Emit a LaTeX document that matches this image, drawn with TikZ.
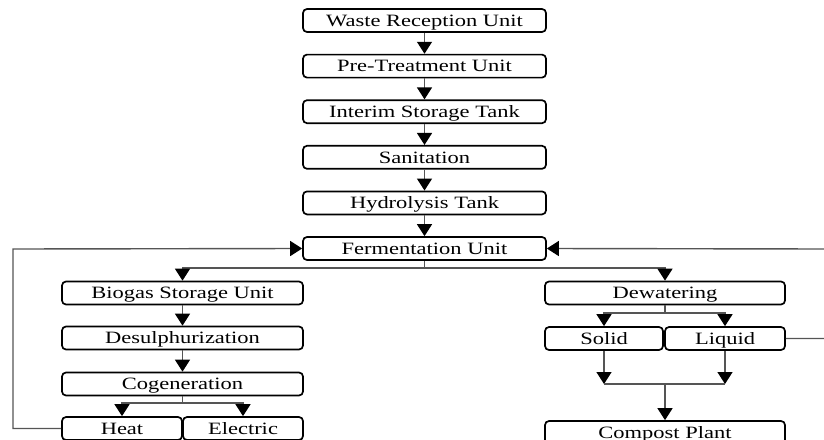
\documentclass[tikz,border=0pt]{standalone}
\usepackage{fontspec}
\setmainfont[FakeStretch=1.3]{Liberation Serif}
\usepackage{tikz}
\usetikzlibrary{arrows.meta}
\definecolor{linegray}{RGB}{85,85,85}

\begin{document}
\begin{tikzpicture}[x=1pt,y=-1pt]
			\tikzset{unit/.style = {shape=rectangle,draw,rounded corners=4pt,line width=1.7pt,
				minimum width=243pt,minimum height=23pt,inner sep=0pt,
				text height=11.4pt,text depth=0pt,font=\fontsize{17.3}{20}\selectfont}}
			\tikzset{half/.style = {unit,minimum width=120pt}}
			\tikzset{edge/.style = {->,draw=linegray,line width=1.4pt,
				> = {Triangle[width=15pt,length=12pt,black]}}}
			\tikzset{line/.style = {draw=linegray,line width=1.4pt}}
			\useasboundingbox (0,0) rectangle (824,439);
			% main column
			\node[unit] (waste) at (424.5, 20.5) {Waste Reception Unit};
			\node[unit] (pre) at (424.5, 66.1) {Pre-Treatment Unit};
			\node[unit] (interim) at (424.5, 111.7) {Interim Storage Tank};
			\node[unit] (sanit) at (424.5, 157.3) {Sanitation};
			\node[unit] (hydro) at (424.5, 202.9) {Hydrolysis Tank};
			\node[unit] (ferm) at (424.5, 248.5) {Fermentation Unit};
			% biogas line
			\node[unit,minimum width=241pt] (biogas) at (182.5, 293) {Biogas Storage Unit};
			\node[unit,minimum width=241pt] (desulph) at (182.5, 338) {Desulphurization};
			\node[unit,minimum width=241pt] (cogen) at (182.5, 384) {Cogeneration};
			\node[half] (heat) at (122, 428.5) {Heat};
			\node[half] (electric) at (243, 428.5) {Electric};
			% digestate line
			\node[unit,minimum width=240pt] (dewater) at (665, 293) {Dewatering};
			\node[half,minimum width=118pt] (solid) at (604, 338.5) {Solid};
			\node[half] (liquid) at (725, 338.5) {Liquid};
			\node[unit,minimum width=240pt] (compost) at (665, 432.5) {Compost Plant};
			% junctions
			\coordinate (split) at (424.5, 268);
			\coordinate (cosplit) at (182.5, 403);
			\coordinate (desplit) at (665, 313);
			\coordinate (merge) at (665, 384);
			\coordinate (leftret) at (13, 249);
			\coordinate (rightret) at (828, 249);
			% edges
			\draw[edge] (waste) -- (pre);
			\draw[edge] (pre) -- (interim);
			\draw[edge] (interim) -- (sanit);
			\draw[edge] (sanit) -- (hydro);
			\draw[edge] (hydro) -- (ferm);
			\draw[line] (ferm) -- (split);
			\draw[edge] (split) -| (biogas);
			\draw[edge] (split) -| (dewater);
			\draw[edge] (biogas) -- (desulph);
			\draw[edge] (desulph) -- (cogen);
			\draw[line] (cogen) -- (cosplit);
			\draw[edge] (cosplit) -| (heat);
			\draw[edge] (cosplit) -| (electric);
			\draw[edge] (heat.west) -- (leftret |- heat.west) -- (leftret) -- (ferm.west);
			\draw[line] (dewater) -- (desplit);
			\draw[edge] (desplit) -| (solid);
			\draw[edge] (desplit) -| (liquid);
			\draw[edge] (solid) -- (solid |- merge);
			\draw[edge] (liquid) -- (liquid |- merge);
			\draw[line] (solid |- merge) -- (liquid |- merge);
			\draw[edge] (merge) -- (compost);
			\draw[edge] (liquid.east) -- (rightret |- liquid.east) -- (rightret) -- (ferm.east);
		\end{tikzpicture}
\end{document}
